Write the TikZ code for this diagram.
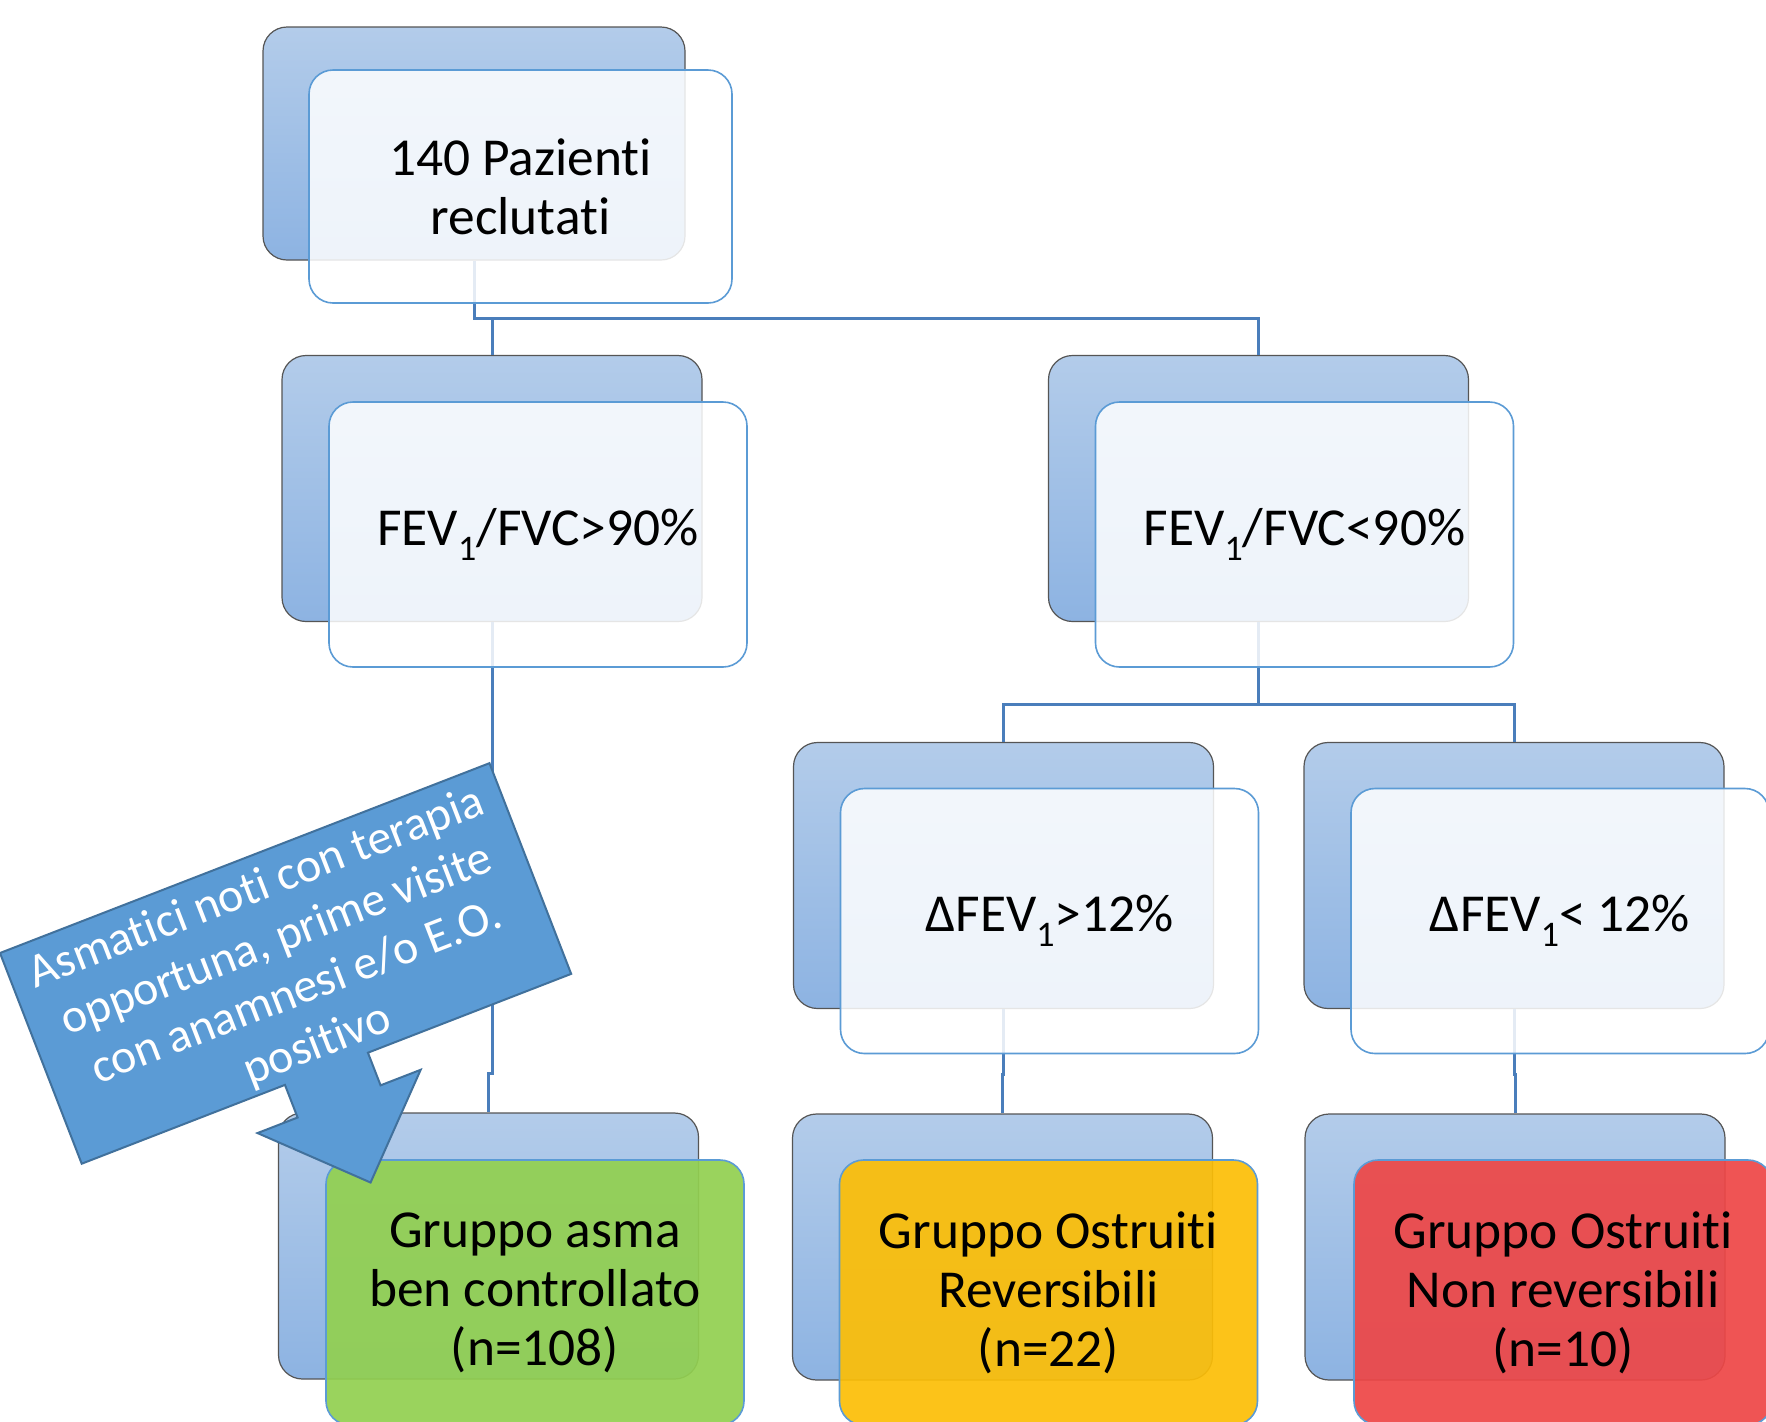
\documentclass[tikz,border=0pt]{standalone}
\usepackage{fontspec}
\setmainfont{Carlito}[Ligatures={NoCommon,NoContextual}]
\usetikzlibrary{calc}
\definecolor{backtop}{HTML}{B3CCEA}
\definecolor{backbot}{HTML}{8DB3E2}
\definecolor{backline}{HTML}{555555}
\definecolor{frontline}{HTML}{5B9BD5}
\definecolor{connc}{HTML}{4A7EBB}
\definecolor{calfill}{HTML}{5B9BD5}
\definecolor{calline}{HTML}{41719C}
\definecolor{grn}{HTML}{92D050}
\definecolor{ylw}{HTML}{FCBE06}
\definecolor{rd}{HTML}{EE4646}
\newcommand\fevsub[1]{\raisebox{-0.28em}{\fontsize{18}{18}\selectfont #1}}
\begin{document}
\begin{tikzpicture}[x=0.5pt,y=-0.5pt,
  backbox/.style={rectangle, rounded corners=12pt, draw=backline, line width=0.6pt,
    top color=backtop, bottom color=backbot, minimum width=210pt, minimum height=133pt, inner sep=0pt},
  frontbox/.style={rectangle, rounded corners=12pt, draw=frontline, line width=0.8pt,
    fill=white, fill opacity=0.85, text opacity=1, minimum width=209pt, minimum height=132.5pt,
    inner sep=0pt, align=center, font=\fontsize{26.7}{29.5}\selectfont},
  colbox/.style={frontbox, fill=#1, fill opacity=0.92},
  connector/.style={draw=connc, line width=1.5pt},
  calltext/.style={text=white, align=center, font=\fontsize{24}{28}\selectfont, inner sep=0pt}]
\useasboundingbox (0,0) rectangle (1766,1421);
\fill[white] (0,0) rectangle (1766,1421);
\clip (0,0) rectangle (1766,1421);
% back boxes
\node[backbox, minimum width=211pt, minimum height=116.5pt] (topb) at (474,143.5) {};
\node[backbox] (fevgb) at (492,488.5) {};
\node[backbox] (fevlb) at (1258.5,488.5) {};
\node[backbox] (dgb) at (1003.5,875.5) {};
\node[backbox] (dlb) at (1514,875.5) {};
\node[backbox] (greenb) at (488.5,1246) {};
\node[backbox] (ylwb) at (1002.5,1247) {};
\node[backbox] (redb) at (1515,1247) {};
% connectors
\coordinate (j1) at ($(topb.south)+(0,58)$);
\draw[connector] (topb.south) -- (j1) -| (fevgb.north);
\draw[connector] (j1) -| (fevlb.north);
\coordinate (j2) at ($(fevlb.south)+(0,82)$);
\draw[connector] (fevlb.south) -- (j2) -| (dgb.north);
\draw[connector] (j2) -| (dlb.north);
\draw[connector] (fevgb.south) -- ($(fevgb.south)+(0,451)$) -| (greenb.north);
\draw[connector] (dgb.south) -- ($(dgb.south)+(0,65)$) -| (ylwb.north);
\draw[connector] (dlb.south) -- ($(dlb.south)+(0,65)$) -| (redb.north);
% front boxes
\node[frontbox, minimum width=211.5pt, minimum height=116.5pt] (topf) at (520.5,186.5) {140 Pazienti\\reclutati};
\node[frontbox] (fevgf) at (538,534.5) {FEV\fevsub{1}/FVC>90\%};
\node[frontbox] (fevlf) at (1304.5,534.5) {FEV\fevsub{1}/FVC<90\%};
\node[frontbox] (dgf) at (1049.5,921) {ΔFEV\fevsub{1}>12\%};
\node[frontbox] (dlf) at (1560,921) {ΔFEV\fevsub{1}< 12\%};
\node[colbox=grn] (greenf) at (535,1292.5) {Gruppo asma\\ben controllato\\(n=108)};
\node[colbox=ylw] (ylwf) at (1048.5,1292.5) {Gruppo Ostruiti\\Reversibili\\(n=22)};
\node[colbox=rd] (redf) at (1563,1292.5) {Gruppo Ostruiti\\Non reversibili\\(n=10)};
% callout
\begin{scope}[shift={(0,953)}, rotate=21.2]
\draw[fill=calfill, draw=calline, line width=1pt, line join=miter]
  (0,0) -- (525,0) -- (525,226) -- (307,226) -- (307,261) -- (350,261) -- (262.5,348)
  -- (175,261) -- (218,261) -- (218,226) -- (0,226) -- cycle;
\node[calltext, rotate=21.2] (callt) at (262.5,117)
  {Asmatici noti con terapia\\opportuna, prime visite\\con anamnesi e/o E.O.\\positivo};
\end{scope}
\end{tikzpicture}
\end{document}
